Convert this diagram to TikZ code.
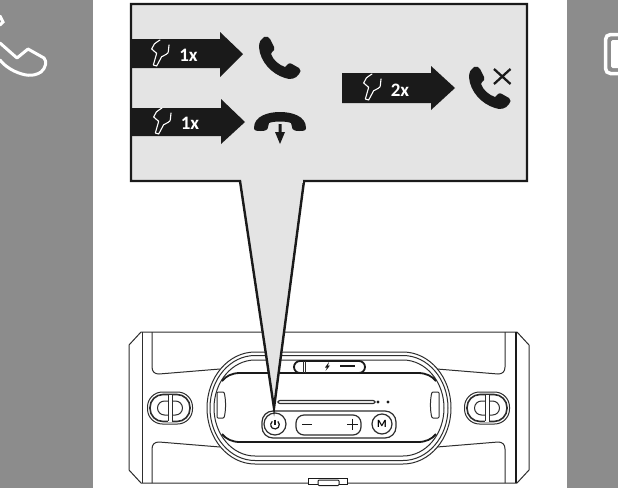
\documentclass[tikz,border=0pt]{standalone}
\usepackage{fontspec}
\setmainfont{Carlito}
\definecolor{panelgray}{HTML}{8C8C8C}
\definecolor{calloutfill}{HTML}{E4E4E4}
\definecolor{ink}{HTML}{1A1A1A}
\definecolor{lineink}{HTML}{2E2E2E}
\tikzset{
  x=1pt,y=-1pt,
  body/.style={draw=lineink,line width=1pt,line join=round},
  heavy/.style={draw=ink,line width=1.8pt,line join=round},
  calloutedge/.style={draw=ink,line width=2.4pt,line join=miter},
  presslabel/.style={text=white,font=\bfseries\fontsize{19}{19}\selectfont,inner sep=0pt},
  pics/handicon/.style={code={
    \draw[white,line width=1.1pt,line join=round,line cap=round,x=0.3333pt,y=-0.3333pt]
      (-3,-45) .. controls (-10,-40) and (-18,-36) .. (-20,-33) -- (-28,-18)
      -- (-13,-5) -- (-23,30) -- (-13,33) -- (2,5)
      .. controls (12,0) and (22,-4) .. (22,-10) -- (24,-30);
  }},
  pics/handsetshape/.style={code={
    \fill[ink,line join=round]
      (264,37) .. controls (267,36) and (269,37) .. (270,39)
      -- (274,47) .. controls (275,49) and (274,51) .. (272,52)
      -- (271,54) .. controls (273,60) and (279,65) .. (285,67)
      -- (288,64) .. controls (289,63) and (291,63) .. (292,64)
      -- (299,68) .. controls (301,70) and (301,72) .. (299,74)
      .. controls (296,79) and (290,80) .. (285,78)
      .. controls (272,74) and (260,62) .. (259,47)
      .. controls (259,42) and (261,39) .. (264,37) -- cycle;
  }},
}
\begin{document}
\begin{tikzpicture}
\useasboundingbox (0,0) rectangle (618,488);
\fill[white] (0,0) rectangle (618,488);
% side panels
\fill[panelgray] (0,0) rectangle (93,488);
\fill[panelgray] (567,0) rectangle (618,488);
\draw[white,line width=3pt,line join=round,line cap=round]
  (0,43) -- (17,58) -- (28,49) -- (44,58) .. controls (47,61) and (46,68) .. (41,72)
  .. controls (33,77) and (25,76) .. (14,71) .. controls (8,68) and (3,64) .. (0,60);
\draw[white,line width=3pt,line cap=round] (0,16) -- (3,22) -- (0,25);
\draw[white,line width=3.5pt,rounded corners=5pt] (621,34.5) -- (605.5,34.5) -- (605.5,73.5) -- (621,73.5);
\fill[white,rounded corners=1.5pt] (621,40) -- (611,40) -- (611,68) -- (621,68) -- cycle;
% speaker
\draw[body] (141,332) -- (129,345) -- (129,470) -- (141,483) -- (517,483) -- (529,470) -- (529,345) -- (517,332) -- cycle;
\draw[body] (142,332) -- (142,483);
\draw[heavy,line width=1.2pt] (516,332) -- (516,483);
\draw[body] (152,332) -- (152,367) .. controls (152,372) and (155,374) .. (159,374) -- (220,369);
\draw[body] (152,483) -- (152,449) .. controls (152,444) and (155,442) .. (159,442) -- (220,447);
\draw[body] (505,332) -- (505,367) .. controls (505,372) and (502,374) .. (498,374) -- (437,369);
\draw[body] (505,483) -- (505,449) .. controls (505,444) and (502,442) .. (498,442) -- (437,447);
% knobs
\foreach \cx in {170,487}{
  \draw[body,rounded corners=15pt] (\cx-22.5,392) rectangle (\cx+22.5,424);
  \draw[draw=lineink,line width=1.6pt,rounded corners=13pt] (\cx-20,394.5) rectangle (\cx+20,421.5);
  \draw[body,rounded corners=7pt] (\cx-12.5,401) rectangle (\cx+12.5,415);
  \fill[white] (\cx-2,394.5) rectangle (\cx+2,421.5);
  \draw[body] (\cx-2,395) -- (\cx-2,421) (\cx+2,395) -- (\cx+2,421);
}
% oval band
\draw[body] (255,352) -- (403,352) arc[start angle=-90,end angle=90,x radius=48,y radius=56] -- (255,464) arc[start angle=90,end angle=270,x radius=48,y radius=56] -- cycle;
\draw[body] (255,355.5) -- (403,355.5) arc[start angle=-90,end angle=90,x radius=45,y radius=52.5] -- (255,460.5) arc[start angle=90,end angle=270,x radius=45,y radius=52.5] -- cycle;
\draw[body] (255,360) -- (403,360) arc[start angle=-90,end angle=90,x radius=41,y radius=48] -- (255,456) arc[start angle=90,end angle=270,x radius=41,y radius=48] -- cycle;
\draw[heavy] (222,381) .. controls (226,376) and (232,373) .. (240,373) -- (418,373) .. controls (426,373) and (432,376) .. (436,381);
\draw[heavy] (222,434) .. controls (226,439) and (232,442) .. (240,442) -- (418,442) .. controls (426,442) and (432,439) .. (436,434);
% side tabs
\draw[body,fill=white,rounded corners=1pt] (217,392) -- (224,392) .. controls (226,400) and (226,410) .. (224,418) -- (217,418) -- cycle;
\draw[body,fill=white,rounded corners=1pt] (439,392) -- (432,392) .. controls (430,400) and (430,410) .. (432,418) -- (439,418) -- cycle;
% top switch
\draw[heavy,fill=white,rounded corners=6pt] (294,361) rectangle (365,373);
\draw[body] (303.5,361) -- (303.5,373) (305,361) -- (305,373);
\fill[ink] (329,362) -- (325,367.5) -- (327,367.5) -- (325.5,371) -- (330,365.5) -- (328,365.5) -- cycle;
\draw[ink,line width=1.8pt] (340,366) -- (355,366);
% led slit
\draw[body,line width=1.2pt,rounded corners=2pt] (278,400.5) rectangle (375,403.5);
\fill[ink] (378,402) circle[radius=1.6] (388,402) circle[radius=1.6];
% button panel
\draw[draw=lineink,line width=1.2pt,rounded corners=11pt] (262,411) rectangle (396,438);
\node[circle,draw=lineink,line width=1.2pt,minimum size=22pt,inner sep=0pt] (power) at (275,424) {};
\draw[ink,line width=1.2pt] (277.8,421.4) arc[start angle=-50,end angle=230,radius=4.3];
\draw[ink,line width=1.2pt] (275,419.5) -- (275,424.5);
\draw[draw=lineink,line width=1.2pt,rounded corners=8pt] (296,415) rectangle (361,435);
\draw[ink,line width=1.7pt] (302,424.5) -- (312,424.5) (347,424.5) -- (358,424.5) (352.5,418.5) -- (352.5,430);
\node[circle,draw=lineink,line width=1.2pt,minimum size=20pt,inner sep=0pt,font=\bfseries\fontsize{11}{11}\selectfont] (modebtn) at (382,424) {M};
% bottom latch
\draw[draw=ink,line width=1pt,fill=white] (308.5,478.5) rectangle (347.5,484.5);
\draw[draw=ink,line width=1pt,fill=white,rounded corners=1pt] (318,480) rectangle (339,485.5);
\draw[ink,line width=1.8pt] (316,478.5) -- (341,478.5);
% callout
\coordinate (baseL) at (240,181);
\coordinate (baseR) at (304,181);
\coordinate (tip) at (274,408);
\draw[calloutedge,fill=calloutfill,miter limit=20] (baseL) -- (tip) -- (baseR) -- (527,181) -- (527,4) -- (131,4) -- (131,181) -- cycle;
\fill[calloutfill] (241.5,179.7) rectangle (302.5,183);
% arrows
\fill[ink] (132,39) -- (220,39) -- (220,32) -- (243,54) -- (220,77) -- (220,68) -- (132,68) -- cycle;
\fill[ink] (132,108) -- (221,108) -- (221,99) -- (245,122) -- (221,144) -- (221,136) -- (132,136) -- cycle;
\fill[ink] (342,73) -- (431,73) -- (431,66) -- (455,88) -- (431,110) -- (431,103) -- (342,103) -- cycle;
\pic at (161,55) {handicon};
\pic at (163,123) {handicon};
\pic at (373,89) {handicon};
\node[presslabel] (t1) at (188.5,55.5) {1x};
\node[presslabel] (t2) at (190,123.5) {1x};
\node[presslabel] (t3) at (400,90) {2x};
% phones
\pic at (0,0) {handsetshape};
\pic at (210,30) {handsetshape};
\draw[ink,line width=2.3pt] (494,69) -- (510.5,84) (510.5,69) -- (494,84);
% hang up
\fill[ink,line join=round] (254,128) .. controls (254,116) and (268,112) .. (280,112)
  .. controls (292,112) and (306,116) .. (306,128)
  .. controls (306,131) and (303,131) .. (299,131)
  .. controls (295,131) and (292,130) .. (292,127) -- (291,123)
  .. controls (286,121) and (274,121) .. (269,123) -- (268,127)
  .. controls (268,130) and (265,131) .. (261,131)
  .. controls (257,131) and (254,131) .. (254,128) -- cycle;
\fill[ink] (278.5,124) -- (281.5,124) -- (281.5,132) -- (285,132) -- (280,144) -- (275,132) -- (278.5,132) -- cycle;
\end{tikzpicture}
\end{document}
